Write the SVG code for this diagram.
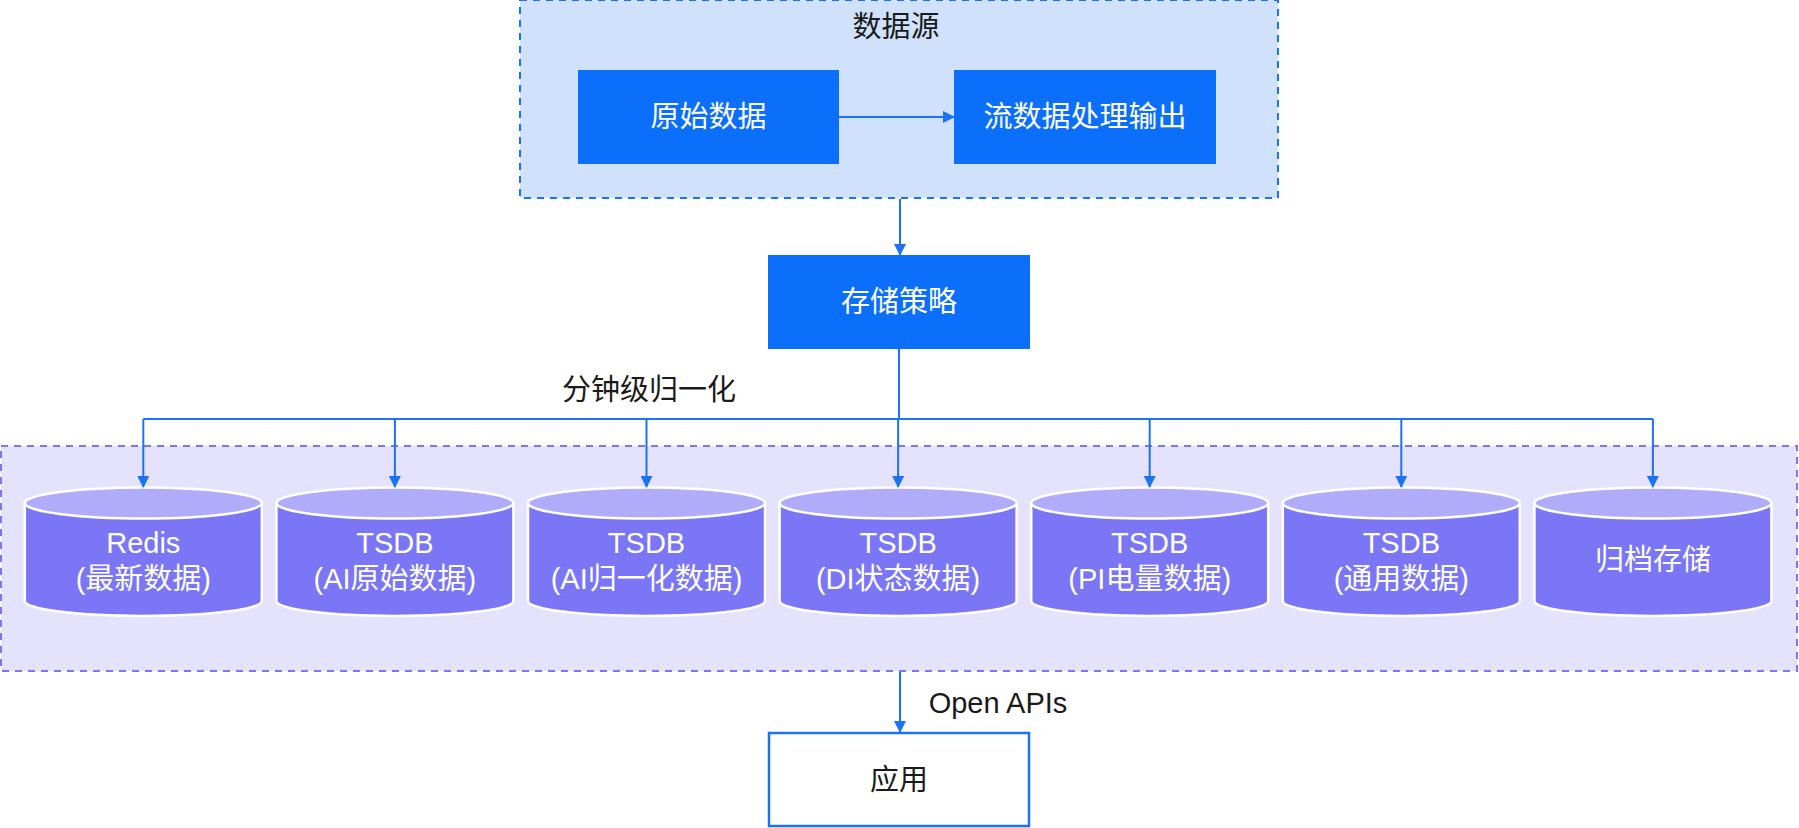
<svg xmlns="http://www.w3.org/2000/svg" width="1799" height="828" viewBox="0 0 1799 828">
<style>
.zh{font-family:"Liberation Sans","Noto Sans CJK SC",sans-serif;font-size:29px;text-anchor:middle}
.w{fill:#ffffff}
.k{fill:#1a1a1a}
.box{fill:#0c6ffc}
.conn{stroke:#1a73f5;stroke-width:2;fill:none}
.body{fill:#7b76f6;stroke:#ffffff;stroke-width:2.5}
.top{fill:#b0acf9;stroke:#ffffff;stroke-width:2.5}
</style>
<defs>
<marker id="ah" markerWidth="12" markerHeight="12" refX="11" refY="6" orient="auto" markerUnits="userSpaceOnUse">
<path d="M0,0 L12,6 L0,12 Z" fill="#1a73f5"/>
</marker>
</defs>

<g id="datasource">
<rect x="520" y="0" width="758" height="198" fill="#cfe1fb" stroke="#1a73f5" stroke-width="2" stroke-dasharray="7 6"/>
<text class="zh k" x="896" y="37">数据源</text>
</g>
<g id="raw">
<rect class="box" x="578" y="70" width="261" height="94"/>
<text class="zh w" x="708.5" y="127">原始数据</text>
</g>
<g id="stream">
<rect class="box" x="954" y="70" width="262" height="94"/>
<text class="zh w" x="1085" y="127">流数据处理输出</text>
</g>
<g id="strategy">
<rect class="box" x="768" y="255" width="262" height="94"/>
<text class="zh w" x="899" y="312">存储策略</text>
</g>

<g id="storage-area">
<rect x="1" y="446" width="1796" height="225" fill="#e4e2fd" stroke="#7b76f6" stroke-width="2" stroke-dasharray="7 6"/>
</g>

<g id="cyl-redis">
<path class="body" d="M24.8,503 V601 A118.5,15 0 0 0 261.8,601 V503"/>
<ellipse class="top" cx="143.3" cy="503" rx="118.5" ry="15.5"/>
<text class="zh w" x="143.3" y="553">Redis</text>
<text class="zh w" x="143.3" y="589">(最新数据)</text>
</g>
<g id="cyl-ai-raw">
<path class="body" d="M276.4,503 V601 A118.5,15 0 0 0 513.4,601 V503"/>
<ellipse class="top" cx="394.9" cy="503" rx="118.5" ry="15.5"/>
<text class="zh w" x="394.9" y="553">TSDB</text>
<text class="zh w" x="394.9" y="589">(AI原始数据)</text>
</g>
<g id="cyl-ai-norm">
<path class="body" d="M528,503 V601 A118.5,15 0 0 0 765,601 V503"/>
<ellipse class="top" cx="646.5" cy="503" rx="118.5" ry="15.5"/>
<text class="zh w" x="646.5" y="553">TSDB</text>
<text class="zh w" x="646.5" y="589">(AI归一化数据)</text>
</g>
<g id="cyl-di">
<path class="body" d="M779.6,503 V601 A118.5,15 0 0 0 1016.6,601 V503"/>
<ellipse class="top" cx="898.1" cy="503" rx="118.5" ry="15.5"/>
<text class="zh w" x="898.1" y="553">TSDB</text>
<text class="zh w" x="898.1" y="589">(DI状态数据)</text>
</g>
<g id="cyl-pi">
<path class="body" d="M1031.2,503 V601 A118.5,15 0 0 0 1268.2,601 V503"/>
<ellipse class="top" cx="1149.7" cy="503" rx="118.5" ry="15.5"/>
<text class="zh w" x="1149.7" y="553">TSDB</text>
<text class="zh w" x="1149.7" y="589">(PI电量数据)</text>
</g>
<g id="cyl-general">
<path class="body" d="M1282.8,503 V601 A118.5,15 0 0 0 1519.8,601 V503"/>
<ellipse class="top" cx="1401.3" cy="503" rx="118.5" ry="15.5"/>
<text class="zh w" x="1401.3" y="553">TSDB</text>
<text class="zh w" x="1401.3" y="589">(通用数据)</text>
</g>
<g id="cyl-archive">
<path class="body" d="M1534.4,503 V601 A118.5,15 0 0 0 1771.4,601 V503"/>
<ellipse class="top" cx="1652.9" cy="503" rx="118.5" ry="15.5"/>
<text class="zh w" x="1652.9" y="570">归档存储</text>
</g>

<g id="app">
<rect x="769" y="733" width="260" height="93" fill="#ffffff" stroke="#1a73f5" stroke-width="2.5"/>
<text class="zh k" x="899" y="790">应用</text>
</g>

<g id="connectors">
<line class="conn" x1="839" y1="117" x2="954" y2="117" marker-end="url(#ah)"/>
<line class="conn" x1="900" y1="199" x2="900" y2="255" marker-end="url(#ah)"/>
<line class="conn" x1="899" y1="349" x2="899" y2="419"/>
<line class="conn" x1="143.3" y1="419" x2="1652.9" y2="419"/>
<line class="conn" x1="143.3" y1="419" x2="143.3" y2="487" marker-end="url(#ah)"/>
<line class="conn" x1="394.9" y1="419" x2="394.9" y2="487" marker-end="url(#ah)"/>
<line class="conn" x1="646.5" y1="419" x2="646.5" y2="487" marker-end="url(#ah)"/>
<line class="conn" x1="898.1" y1="419" x2="898.1" y2="487" marker-end="url(#ah)"/>
<line class="conn" x1="1149.7" y1="419" x2="1149.7" y2="487" marker-end="url(#ah)"/>
<line class="conn" x1="1401.3" y1="419" x2="1401.3" y2="487" marker-end="url(#ah)"/>
<line class="conn" x1="1652.9" y1="419" x2="1652.9" y2="487" marker-end="url(#ah)"/>
<line class="conn" x1="900" y1="672" x2="900" y2="732" marker-end="url(#ah)"/>
<text class="zh k" x="649" y="400">分钟级归一化</text>
<text class="zh k" x="998" y="713">Open APIs</text>
</g>
</svg>
